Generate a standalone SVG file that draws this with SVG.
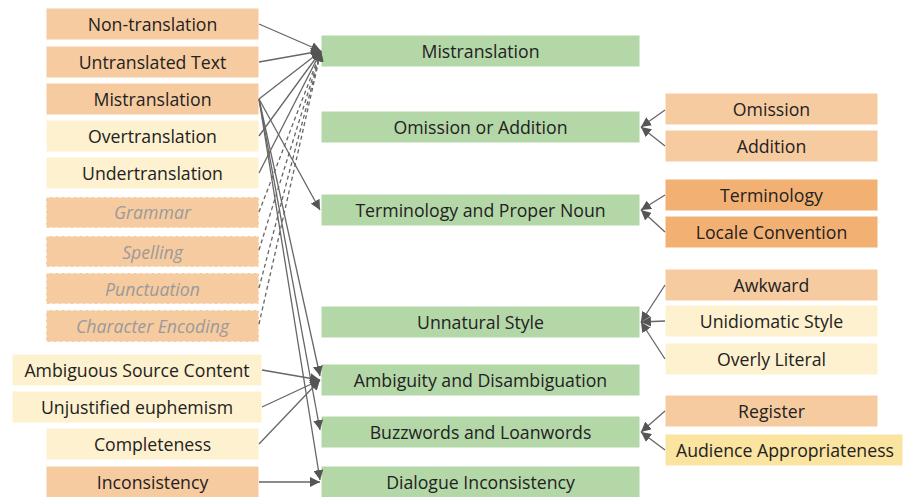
<svg xmlns="http://www.w3.org/2000/svg" width="903" height="497" viewBox="0 0 903 497">
<defs>
<marker id="ah" viewBox="0 0 10 10" refX="10" refY="5" markerWidth="10" markerHeight="10" markerUnits="userSpaceOnUse" orient="auto">
<path d="M0,0 L10,5 L0,10 z" fill="#555"/>
</marker>
<style>
.o{fill:#F7CBA0;stroke:#fff;stroke-width:1}
.y{fill:#FDF1CF;stroke:#fff;stroke-width:1}
.d{fill:#F2B173;stroke:#fff;stroke-width:1}
.a{fill:#FBE3A0;stroke:#fff;stroke-width:1}
.g{fill:#B4D7A8;stroke:#fff;stroke-width:1}
.od{fill:#F7CBA0;stroke:#fff;stroke-width:1.2;stroke-dasharray:4 2}
text{font-family:"Open Sans","Noto Sans","DejaVu Sans",sans-serif;font-size:17.7px;fill:#222;text-anchor:middle}
text.i{font-style:italic;fill:#9a9a9a}
.c line{stroke:#666;stroke-width:1.3;marker-end:url(#ah)}
.c line.dash{stroke-dasharray:4 3}
</style>
</defs>
<rect width="903" height="497" fill="#fff"/>
<g id="left">
<g id="n-nontranslation"><rect class="o" x="46" y="8" width="213" height="32"/><text x="152.5" y="30.5">Non-translation</text></g>
<g id="n-untranslated"><rect class="o" x="46" y="46" width="213" height="32"/><text x="152.5" y="68.5">Untranslated Text</text></g>
<g id="n-mistranslation-l"><rect class="o" x="46" y="83" width="213" height="32"/><text x="152.5" y="105.5">Mistranslation</text></g>
<g id="n-overtranslation"><rect class="y" x="46" y="120" width="213" height="32"/><text x="152.5" y="142.5">Overtranslation</text></g>
<g id="n-undertranslation"><rect class="y" x="46" y="157" width="213" height="32"/><text x="152.5" y="179.5">Undertranslation</text></g>
<g id="n-grammar"><rect class="od" x="46" y="197" width="213" height="31"/><text class="i" x="152.5" y="218.5">Grammar</text></g>
<g id="n-spelling"><rect class="od" x="46" y="236" width="213" height="31"/><text class="i" x="152.5" y="258.5">Spelling</text></g>
<g id="n-punctuation"><rect class="od" x="46" y="273" width="213" height="31"/><text class="i" x="152.5" y="295.5">Punctuation</text></g>
<g id="n-charenc"><rect class="od" x="46" y="310" width="213" height="32"/><text class="i" x="152.5" y="332.5">Character Encoding</text></g>
<g id="n-ambsource"><rect class="y" x="12" y="354" width="250" height="32"/><text x="137" y="376.5">Ambiguous Source Content</text></g>
<g id="n-euphemism"><rect class="y" x="12" y="391" width="250" height="32"/><text x="137" y="413.5">Unjustified euphemism</text></g>
<g id="n-completeness"><rect class="y" x="46" y="428" width="213" height="32"/><text x="152.5" y="450.5">Completeness</text></g>
<g id="n-inconsistency"><rect class="o" x="46" y="466" width="213" height="32"/><text x="152.5" y="488.5">Inconsistency</text></g>
</g>
<g id="middle">
<g id="m-mistranslation"><rect class="g" x="321" y="35" width="319" height="32"/><text x="480.5" y="57.5">Mistranslation</text></g>
<g id="m-omission"><rect class="g" x="321" y="111" width="319" height="32"/><text x="480.5" y="133.5">Omission or Addition</text></g>
<g id="m-terminology"><rect class="g" x="321" y="194" width="319" height="32"/><text x="480.5" y="216.5">Terminology and Proper Noun</text></g>
<g id="m-unnatural"><rect class="g" x="321" y="306" width="319" height="32"/><text x="480.5" y="328.5">Unnatural Style</text></g>
<g id="m-ambiguity"><rect class="g" x="321" y="364" width="319" height="32"/><text x="480.5" y="386.5">Ambiguity and Disambiguation</text></g>
<g id="m-buzzwords"><rect class="g" x="321" y="416" width="319" height="32"/><text x="480.5" y="438.5">Buzzwords and Loanwords</text></g>
<g id="m-dialogue"><rect class="g" x="321" y="466" width="319" height="32"/><text x="480.5" y="488.5">Dialogue Inconsistency</text></g>
</g>
<g id="right">
<g id="r-omission"><rect class="o" x="665" y="93" width="213" height="32"/><text x="771.5" y="115.5">Omission</text></g>
<g id="r-addition"><rect class="o" x="665" y="130" width="213" height="32"/><text x="771.5" y="152.5">Addition</text></g>
<g id="r-terminology"><rect class="d" x="665" y="179" width="213" height="32"/><text x="771.5" y="201.5">Terminology</text></g>
<g id="r-locale"><rect class="d" x="665" y="216" width="213" height="32"/><text x="771.5" y="238.5">Locale Convention</text></g>
<g id="r-awkward"><rect class="o" x="665" y="269" width="213" height="32"/><text x="771.5" y="291.5">Awkward</text></g>
<g id="r-unidiomatic"><rect class="y" x="665" y="305" width="213" height="32"/><text x="771.5" y="327.5">Unidiomatic Style</text></g>
<g id="r-literal"><rect class="y" x="665" y="343" width="213" height="32"/><text x="771.5" y="365.5">Overly Literal</text></g>
<g id="r-register"><rect class="o" x="665" y="395" width="213" height="32"/><text x="771.5" y="417.5">Register</text></g>
<g id="r-audience"><rect class="a" x="665" y="434" width="238" height="32"/><text x="785" y="456.5">Audience Appropriateness</text></g>
</g>
<g id="connectors" class="c">
<line x1="259" y1="24" x2="321" y2="51"/>
<line x1="259" y1="62" x2="321" y2="51"/>
<line x1="259" y1="99" x2="321" y2="51"/>
<line x1="259" y1="136" x2="321" y2="51"/>
<line x1="259" y1="173" x2="321" y2="51"/>
<line class="dash" x1="259" y1="212" x2="321" y2="51"/>
<line class="dash" x1="259" y1="250" x2="321" y2="51"/>
<line class="dash" x1="259" y1="288" x2="321" y2="51"/>
<line class="dash" x1="259" y1="324" x2="321" y2="51"/>
<line x1="259" y1="99" x2="320" y2="210"/>
<line x1="259" y1="99" x2="320" y2="376"/>
<line x1="259" y1="99" x2="320" y2="430"/>
<line x1="259" y1="99" x2="320" y2="480"/>
<line x1="262" y1="370" x2="320" y2="380"/>
<line x1="262" y1="407" x2="320" y2="380"/>
<line x1="259" y1="444" x2="320" y2="380"/>
<line x1="259" y1="482" x2="320" y2="482"/>
<line x1="665" y1="110" x2="641" y2="127"/>
<line x1="665" y1="146" x2="641" y2="127"/>
<line x1="665" y1="195" x2="641" y2="210"/>
<line x1="665" y1="232" x2="641" y2="210"/>
<line x1="665" y1="285" x2="641" y2="322"/>
<line x1="665" y1="321" x2="641" y2="322"/>
<line x1="665" y1="359" x2="641" y2="322"/>
<line x1="665" y1="411" x2="641" y2="432"/>
<line x1="665" y1="450" x2="641" y2="432"/>
</g>
</svg>
